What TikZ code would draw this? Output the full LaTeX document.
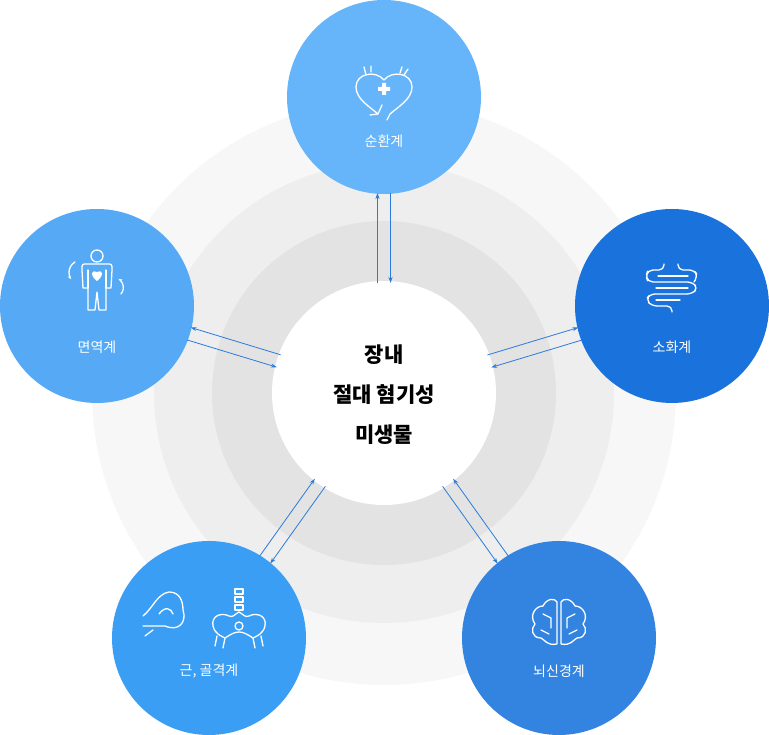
\documentclass[tikz,border=0pt]{standalone}
\usepackage{fontspec}
\newfontfamily\kr{Noto Sans CJK KR}
\usetikzlibrary{arrows.meta}
\begin{document}
\begin{tikzpicture}[x=1pt,y=1pt,
 sat/.style={circle,minimum size=194pt,inner sep=0pt},
 lab/.style={text=white,font=\kr\fontsize{14}{16}\selectfont},
 arr/.style={draw=blue!60!cyan!80!black,line width=0.8pt,-{Stealth[length=6pt,width=4pt]}},
 ico/.style={draw=white,line width=1.3pt,line cap=round,line join=round}]
\definecolor{c1}{HTML}{66B5FA}\definecolor{c2}{HTML}{56AAF5}\definecolor{c3}{HTML}{1A73DC}
\definecolor{c4}{HTML}{3A9EF5}\definecolor{c5}{HTML}{3384E0}\definecolor{ac}{HTML}{2A7BDD}
\tikzset{arr/.append style={draw=ac}}
\useasboundingbox (0,0) rectangle (769,735);
\fill[fill=black!3] (384,342) circle (292);
\fill[fill=black!6.5] (384,342) circle (230);
\fill[fill=black!11] (384,342) circle (172);
\node[circle,fill=white,minimum size=224pt] (c) at (384,342) {};
\node[font=\kr\bfseries\fontsize{21}{40}\selectfont,align=center] at (384,340) {장내\\절대 혐기성\\미생물};
\node[sat,fill=c1] (s1) at (384,638) {};
\node[sat,fill=c2] (s2) at (97,429) {};
\node[sat,fill=c3] (s3) at (672,429) {};
\node[sat,fill=c4] (s4) at (209,97) {};
\node[sat,fill=c5] (s5) at (559,97) {};
\node[lab] at (384,594) {순환계};
\node[lab] at (97,388) {면역계};
\node[lab] at (672,388) {소화계};
\node[lab] at (209,64) {근, 골격계};
\node[lab] at (559,64) {뇌신경계};
% arrows
\foreach \a/\l/\s in {90/296/1,163.1/300/-1,16.8/301/1,234.5/301/1,305.5/301/-1}{
 \begin{scope}[shift={(c.center)},rotate=\a]
 \draw[arr] (110,6.5*\s) -- (\l-96,6.5*\s);
 \draw[arr] (\l-96,-6.5*\s) -- (110,-6.5*\s);
 \end{scope}}
% heart icon
\begin{scope}[shift={(s1.center)}]
\draw[ico] (0,17) .. controls (-8,27) and (-28,24) .. (-28,10) .. controls (-28,-2) and (-14,-10) .. (-6,-17);
\draw[ico] (0,17) .. controls (8,27) and (28,24) .. (28,10) .. controls (28,-2) and (14,-10) .. (6,-17);
\draw[ico] (-6,-17)--(-2,-8) (6,-17)--(3,-23) (-14,-18)--(-6,-17);
\draw[ico] (-20,30)--(-18,22) (-13,31)--(-13,25) (18,30)--(16,24) (24,28)--(20,22);
\fill[white] (-2,2) rectangle (2,14) (-6,6) rectangle (6,10);
\end{scope}
% person icon
\begin{scope}[shift={(s2.center)}]
\draw[ico] (0,50) circle (6);
\draw[ico] (-9,-4) -- (-9,18) -- (-14,18) -- (-15,36) .. controls (-15,42) .. (-10,42) -- (10,42) .. controls (15,42) .. (15,36) -- (14,18) -- (9,18) -- (9,-4) -- (2,-4) -- (0,14) -- (-2,-4) -- cycle;
\draw[ico] (-9,36)--(-9,18) (9,36)--(9,18);
\fill[white] (0,25) .. controls (-8,31) and (-5,37) .. (0,34) .. controls (5,37) and (8,31) .. (0,25);
\draw[ico,-{Stealth[length=4pt]}] (-22,44) arc (120:215:12);
\draw[ico,-{Stealth[length=4pt]}] (24,12) arc (-40:60:10);
\end{scope}
% intestine icon
\begin{scope}[shift={(s3.center)}]
\draw[ico,rounded corners=5pt] (-8,42) -- (-8,36) -- (-24,36) -- (-26,30) -- (-24,24) -- (20,24) -- (26,18) -- (20,12) -- (-22,12) -- (-26,6) -- (-20,0) -- (0,0) -- (0,-6);
\draw[ico,rounded corners=5pt] (6,42) -- (6,36) -- (22,36) -- (26,30) -- (22,24);
\draw[ico] (-14,30)--(16,30) (-16,18)--(16,18) (-16,6)--(8,6);
\end{scope}
% muscle + pelvis icon
\begin{scope}[shift={(s4.center)}]
\draw[ico] (-66,22) .. controls (-56,30) and (-52,44) .. (-40,46) .. controls (-30,46) and (-26,38) .. (-26,28) .. controls (-22,16) and (-30,6) .. (-44,12) -- (-66,12);
\draw[ico] (-50,24) .. controls (-44,32) and (-38,30) .. (-36,24);
\draw[ico] (-56,8) -- (-64,2);
\foreach \yy in {44,36,28}{\draw[ico] (26,\yy) rectangle (34,\yy+5);}
\draw[ico] (4,12) .. controls (2,22) and (12,26) .. (20,22) .. controls (24,20) and (26,24) .. (30,26) .. controls (34,24) and (36,20) .. (40,22) .. controls (48,26) and (58,22) .. (56,12) .. controls (54,4) and (48,2) .. (44,0) .. controls (38,4) and (34,6) .. (30,6) .. controls (26,6) and (22,4) .. (16,0) .. controls (12,2) and (6,4) .. (4,12);
\draw[ico] (30,12) circle (4);
\draw[ico] (16,0) -- (14,-10) (44,0) -- (46,-10) (8,2)--(6,-8) (52,2)--(54,-8);
\end{scope}
% brain icon
\begin{scope}[shift={(s5.center)}]
\draw[ico] (-2,-6) .. controls (-12,-8) and (-14,-2) .. (-18,0) .. controls (-28,0) and (-28,10) .. (-24,14) .. controls (-30,22) and (-24,32) .. (-16,32) .. controls (-12,40) and (-4,40) .. (-2,36) -- (-2,-6);
\draw[ico] (2,-6) .. controls (12,-8) and (14,-2) .. (18,0) .. controls (28,0) and (28,10) .. (24,14) .. controls (30,22) and (24,32) .. (16,32) .. controls (12,40) and (4,40) .. (2,36) -- (2,-6);
\draw[ico] (-16,24)--(-8,20)--(-8,10) (-18,8)--(-10,4) (16,24)--(8,20)--(8,10) (18,8)--(10,4);
\end{scope}
\end{tikzpicture}
\end{document}
